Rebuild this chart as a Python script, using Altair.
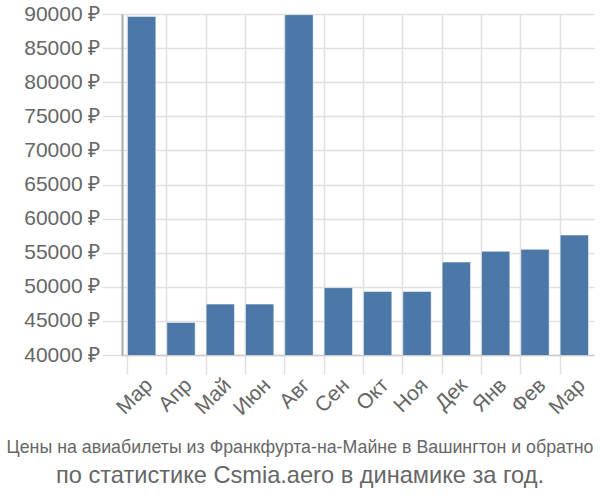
import altair as alt
import pandas as pd

months = ["Мар", "Апр", "Май", "Июн", "Авг", "Сен", "Окт", "Ноя", "Дек", "Янв", "Фев", "Мар"]
prices = [89650, 44770, 47460, 47460, 89900, 49870, 49320, 49320, 53630, 55200, 55490, 57590]

df = pd.DataFrame({"idx": list(range(len(months))), "month": months, "price": prices})

label_arr = "[" + ",".join("'" + m + "'" for m in months) + "]"

chart = alt.Chart(df).mark_bar(
    color="#4c78a8", stroke="#ffffff", strokeOpacity=0.5, strokeWidth=1, clip=True
).encode(
    x=alt.X("idx:O", title=None,
            scale=alt.Scale(paddingInner=0.28, paddingOuter=0.14),
            axis=alt.Axis(labelExpr=label_arr + "[datum.value]", labelAngle=-45,
                          labelFontSize=21, labelColor="#666666", labelFont="Liberation Sans",
                          bandPosition=0, grid=True, gridColor="#e0e0e0", gridWidth=1.5,
                          tickColor="#e0e0e0", tickWidth=1.5, tickSize=19,
                          domainColor="#cccccc", domainWidth=1.5, labelPadding=0)),
    y=alt.Y("price:Q", title=None,
            scale=alt.Scale(domain=[40000, 90000], nice=False, zero=False),
            axis=alt.Axis(values=list(range(40000, 90001, 5000)),
                          labelExpr="datum.value + ' ₽'",
                          labelFontSize=21, labelColor="#666666", labelFont="Liberation Sans",
                          gridColor="#e0e0e0", gridWidth=1.5,
                          tickColor="#e0e0e0", tickWidth=1.5, tickSize=20,
                          domainColor="#aaaaaa", domainWidth=2, labelPadding=2)),
).properties(
    width=472, height=341,
    autosize=alt.AutoSizeParams(type="none"),
    padding={"left": 122, "top": 14, "right": 6, "bottom": 145},
    title=alt.TitleParams(
        text="Цены на авиабилеты из Франкфурта-на-Майне в Вашингтон и обратно",
        subtitle="по статистике Csmia.aero в динамике за год.",
        orient="bottom", anchor="middle", dx=-58,
        font="Liberation Sans", fontSize=17.8, fontWeight="normal", color="#666666",
        subtitleFont="Liberation Sans", subtitleFontSize=23.6, subtitleColor="#666666",
        subtitlePadding=7, offset=20,
    ),
).configure_view(stroke=None)

chart.save("out.html", embed_options={"renderer": "svg", "actions": False})
